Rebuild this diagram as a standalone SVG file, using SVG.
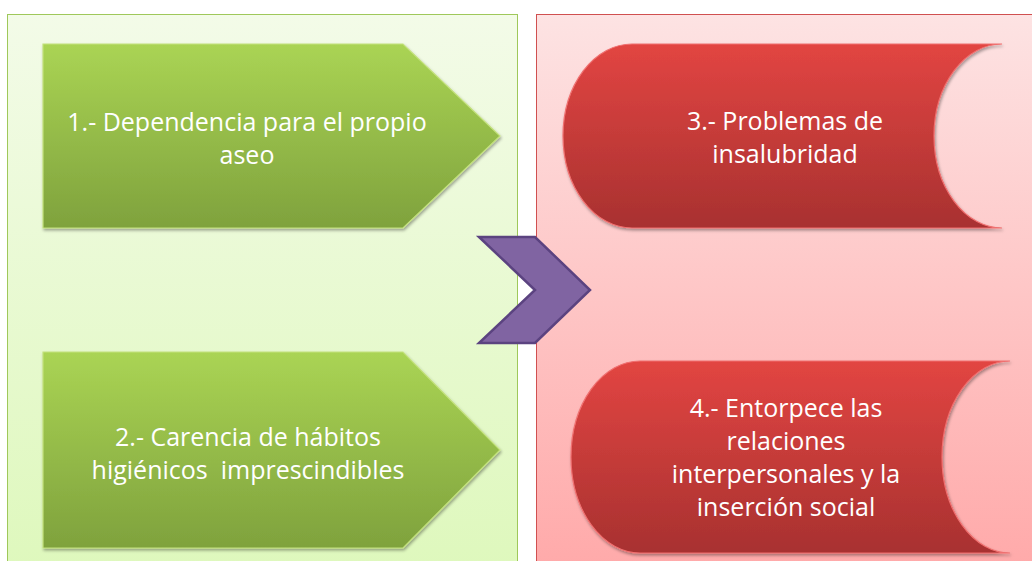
<svg xmlns="http://www.w3.org/2000/svg" width="1032" height="561" viewBox="0 0 1032 561">
<defs>
<linearGradient id="gPanel" x1="0" y1="0" x2="0" y2="1"><stop offset="0" stop-color="#f3fbe8"/><stop offset="1" stop-color="#def8bc"/></linearGradient>
<linearGradient id="rPanel" x1="0" y1="0" x2="0" y2="1"><stop offset="0" stop-color="#fde3e3"/><stop offset="1" stop-color="#ffa9a9"/></linearGradient>
<linearGradient id="gShape" x1="0" y1="0" x2="0" y2="1"><stop offset="0" stop-color="#aad454"/><stop offset="1" stop-color="#7fa23d"/></linearGradient>
<linearGradient id="rShape" x1="0" y1="0" x2="0" y2="1"><stop offset="0" stop-color="#e24542"/><stop offset="1" stop-color="#a83130"/></linearGradient>
<filter id="sh" x="-5%" y="-5%" width="110%" height="115%"><feDropShadow dx="1" dy="2" stdDeviation="1.5" flood-color="#000" flood-opacity="0.35"/></filter>
</defs>
<style>
.lbl{font-family:"Open Sans","Noto Sans",sans-serif;font-size:25px;fill:#ffffff;text-anchor:middle;white-space:pre}
.gsh{fill:url(#gShape);stroke:#c4e27e;stroke-width:1.2;filter:url(#sh)}
.rsh{fill:url(#rShape);stroke:#f07070;stroke-width:1.2;filter:url(#sh)}
</style>
<rect width="1032" height="561" fill="#ffffff"/>
<g id="panel-left"><rect x="7.5" y="14.5" width="510" height="560" fill="url(#gPanel)" stroke="#9fc85a" stroke-width="1"/></g>
<g id="panel-right"><rect x="536.5" y="14.5" width="510" height="560" fill="url(#rPanel)" stroke="#d05050" stroke-width="1"/></g>
<g id="node1">
<path class="gsh" d="M43,44 H403 L500,136 L403,228 H43 Z"/>
<text class="lbl" x="247" y="131">1.- Dependencia para el propio</text>
<text class="lbl" x="247" y="164">aseo</text>
</g>
<g id="node2">
<path class="gsh" d="M43,352 H403 L500,450 L403,548 H43 Z"/>
<text class="lbl" x="248" y="446">2.- Carencia de hábitos</text>
<text class="lbl" x="248" y="479">higiénicos  imprescindibles</text>
</g>
<g id="node3">
<path class="rsh" d="M632,44 H1002 A68,92 0 0 0 1002,228 H632 A69,92 0 0 1 632,44 Z"/>
<text class="lbl" x="785" y="130">3.- Problemas de</text>
<text class="lbl" x="785" y="163">insalubridad</text>
</g>
<g id="node4">
<path class="rsh" d="M640,361 H1010 A68,96 0 0 0 1010,553 H640 A69,96 0 0 1 640,361 Z"/>
<text class="lbl" x="786" y="417">4.- Entorpece las</text>
<text class="lbl" x="786" y="450">relaciones</text>
<text class="lbl" x="786" y="483">interpersonales y la</text>
<text class="lbl" x="786" y="516">inserción social</text>
</g>
<g id="connectors">
<path d="M479,237 H535 L590,290 L535,343 H479 L535,290 Z" fill="#8064a2" stroke="#5b4380" stroke-width="2.5" stroke-linejoin="miter"/>
</g>
</svg>
